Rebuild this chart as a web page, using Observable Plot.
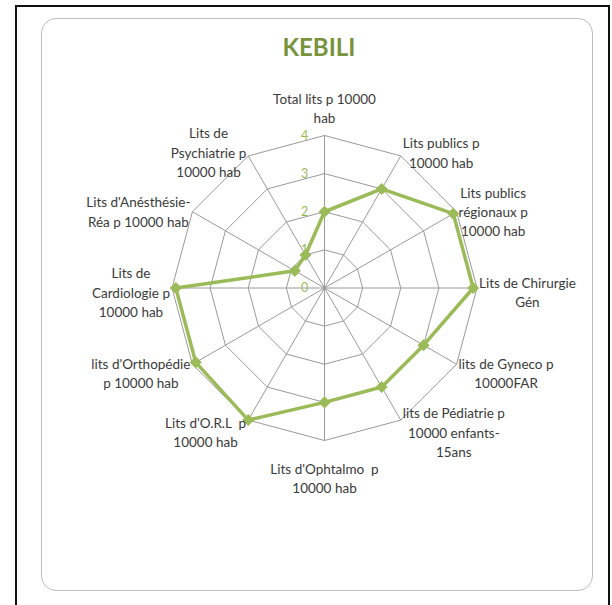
<!DOCTYPE html>
<html><head><meta charset="utf-8">
<script src="https://cdn.jsdelivr.net/npm/d3@7"></script>
<script src="https://cdn.jsdelivr.net/npm/@observablehq/plot@0.6"></script>
<style>
body{margin:0;background:#fff;}
#page{position:relative;width:612px;height:605px;overflow:hidden;font-family:Lato,"Open Sans",sans-serif;}
#outer{position:absolute;left:15px;top:5px;width:591px;height:640px;border:2px solid #111;}
#inner{position:absolute;left:41px;top:18px;width:550px;height:571px;border:1px solid #bdbdbd;border-radius:15px;}
#title{position:absolute;left:219px;width:200px;top:35px;text-align:center;font:bold 24px/24px Lato,sans-serif;color:#77933c;}
#chart{position:absolute;left:0;top:0;}
</style></head><body>
<div id="page"><div id="outer"></div><div id="inner"></div><div id="title">KEBILI</div><div id="chart"></div></div>
<script>
const categories = [
  "Total lits p 10000\nhab",
  "Lits publics p\n10000 hab",
  "Lits publics\nrégionaux p\n10000 hab",
  "Lits de Chirurgie\nGén",
  "lits de Gyneco p\n10000FAR",
  "lits de Pédiatrie p\n10000 enfants-\n15ans",
  "Lits d'Ophtalmo  p\n10000 hab",
  "Lits d'O.R.L  p\n10000 hab",
  "lits d'Orthopédie\np 10000 hab",
  "Lits de\nCardiologie p\n10000 hab",
  "Lits d'Anésthésie-\nRéa p 10000 hab",
  "Lits de\nPsychiatrie p\n10000 hab"
];
const values = [2.0, 3.0, 3.9, 3.9, 3.0, 3.0, 3.0, 4.0, 3.9, 3.9, 0.9, 1.0];
const ticks = [0, 1, 2, 3, 4];

const GREEN = "#9bbb59";
const GRID = "#9a9a9a";
const FS = 13.5;
const maxR = d3.max(ticks);
const n = categories.length;
const ang = i => (i * 2 * Math.PI) / n;
const px = (r, i) => r * Math.sin(ang(i));
const py = (r, i) => r * Math.cos(ang(i));

// grid rings
const rings = [];
ticks.filter(t => t > 0).forEach(t => {
  for (let i = 0; i <= n; i++) rings.push({t, x: px(t, i % n), y: py(t, i % n)});
});
// spokes
const spokes = categories.map((c, i) => ({x2: px(maxR, i), y2: py(maxR, i)}));
// data polygon (closed)
const pts = values.map((v, i) => ({x: px(v, i), y: py(v, i), v}));
const closed = pts.concat([pts[0]]);

// label measurement
const ctx = document.createElement("canvas").getContext("2d");
ctx.font = FS + "px Lato";
const labelMarks = categories.map((c, i) => {
  const s = Math.sin(ang(i)), co = Math.cos(ang(i));
  const w = d3.max(c.split("\n"), l => ctx.measureText(l).width);
  let dx = 0, dy;
  if (Math.abs(s) < 1e-6) {
    dy = co > 0 ? -28.5 : 36.5;
  } else {
    dx = Math.sign(s) * (w / 2 + 2);
    dy = 3.5 - 9 * co;
  }
  return Plot.text([{x: px(maxR, i), y: py(maxR, i), name: c}], {
    x: "x", y: "y", text: "name", textAnchor: "middle", lineAnchor: "middle",
    lineHeight: 1.44, dx, dy, fill: "#3a3a3a", fontSize: FS
  });
});

const W = 612, H = 605, cx = 324, cy = 287.5, R = 152.5;
const chart = Plot.plot({
  width: W, height: H,
  marginLeft: cx - R, marginRight: W - cx - R,
  marginTop: cy - R, marginBottom: H - cy - R,
  x: {domain: [-maxR, maxR], axis: null},
  y: {domain: [-maxR, maxR], axis: null},
  style: {fontFamily: "Lato, 'Open Sans', sans-serif", background: "transparent", overflow: "visible"},
  marks: [
    Plot.line(rings, {x: "x", y: "y", z: "t", stroke: GRID, strokeWidth: 1}),
    Plot.link(spokes, {x1: 0, y1: 0, x2: "x2", y2: "y2", stroke: GRID, strokeWidth: 1}),
    Plot.line(closed, {x: "x", y: "y", stroke: GREEN, strokeWidth: 3.5, strokeLinejoin: "round"}),
    Plot.dot(pts, {x: "x", y: "y", symbol: "diamond2", r: 4.5, fill: GREEN, stroke: GREEN}),
    Plot.text(ticks, {x: 0, y: d => d, text: d => String(d), dx: -20, fill: GREEN, fontSize: 12.5, textAnchor: "middle"}),
    ...labelMarks
  ]
});
document.getElementById("chart").appendChild(chart);
</script>
</body></html>
